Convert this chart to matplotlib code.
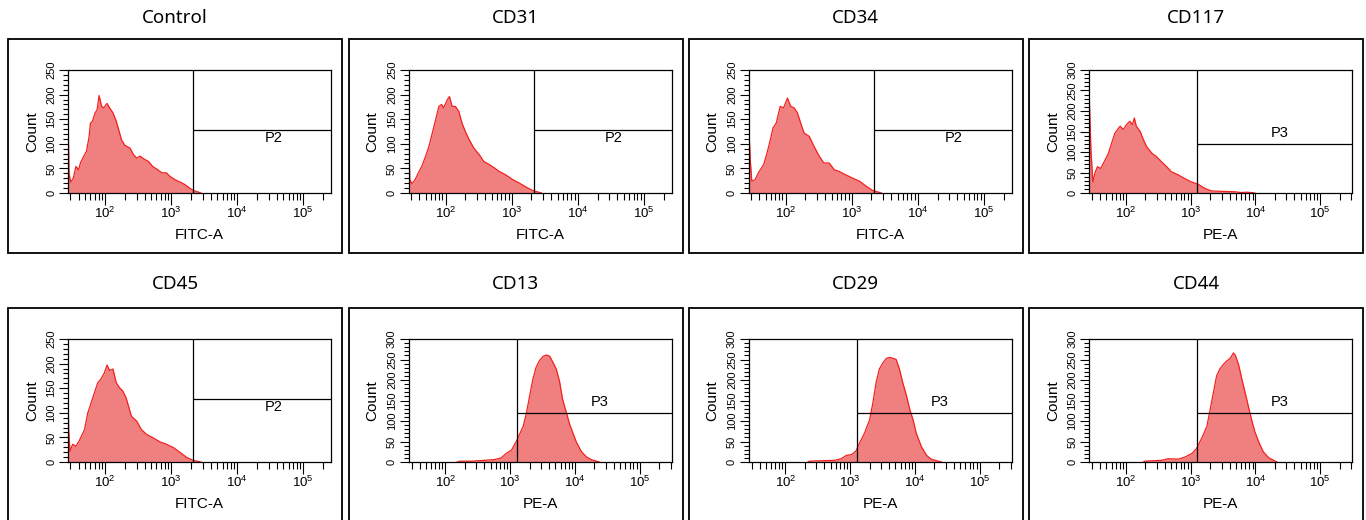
import numpy as np
import matplotlib
matplotlib.use("Agg")
import matplotlib.pyplot as plt
from matplotlib.patches import Rectangle
from matplotlib.ticker import LogLocator, NullFormatter, MultipleLocator, LogFormatterSciNotation

# ---------------- data ----------------
titles = ["Control", "CD31", "CD34", "CD117", "CD45", "CD13", "CD29", "CD44"]
x_labels = ["FITC-A", "FITC-A", "FITC-A", "PE-A", "FITC-A", "PE-A", "PE-A", "PE-A"]
gate_names = ["P2", "P2", "P2", "P3", "P2", "P3", "P3", "P3"]

# fluorescence intensity in log10 units, and counts
control_log = [1.44, 1.455, 1.48, 1.52, 1.56, 1.60, 1.63, 1.68, 1.72, 1.76, 1.78, 1.81, 1.85, 1.88, 1.91,
               1.95, 1.98, 2.03, 2.07, 2.12, 2.17, 2.20, 2.25, 2.30, 2.38, 2.43, 2.48, 2.53, 2.59, 2.66,
               2.72, 2.78, 2.86, 2.93, 2.98, 3.06, 3.14, 3.21, 3.28, 3.34, 3.41, 3.45]
control_cnt = [173, 41, 22, 30, 54, 47, 62, 75, 85, 115, 142, 146, 163, 169, 198,
               176, 173, 182, 173, 163, 146, 132, 108, 97, 91, 78, 71, 75, 69, 64,
               54, 49, 41, 41, 34, 27, 22, 17, 10, 5, 2, 0]

cd31_log = [1.44, 1.46, 1.49, 1.54, 1.59, 1.64, 1.70, 1.75, 1.80, 1.85, 1.90, 1.94, 1.97, 2.03, 2.06,
            2.10, 2.15, 2.20, 2.25, 2.30, 2.36, 2.43, 2.51, 2.58, 2.66, 2.74, 2.81, 2.91, 3.02, 3.12,
            3.22, 3.32, 3.40, 3.45]
cd31_cnt = [135, 27, 19, 27, 41, 54, 75, 95, 122, 149, 176, 180, 173, 190, 196,
            176, 176, 166, 142, 125, 108, 91, 78, 64, 58, 51, 44, 37, 27, 20,
            12, 5, 2, 0]

cd34_log = [1.44, 1.47, 1.49, 1.54, 1.59, 1.67, 1.72, 1.77, 1.81, 1.86, 1.92, 1.97, 2.03, 2.08, 2.13,
            2.18, 2.23, 2.28, 2.36, 2.43, 2.51, 2.58, 2.66, 2.74, 2.81, 2.91, 3.02, 3.12, 3.22, 3.32,
            3.40, 3.45]
cd34_cnt = [146, 61, 24, 27, 41, 58, 81, 108, 132, 142, 176, 173, 193, 176, 173,
            163, 142, 122, 115, 95, 75, 61, 61, 47, 44, 37, 30, 24, 14, 5,
            2, 0]

cd117_log = [1.43, 1.46, 1.49, 1.52, 1.56, 1.61, 1.68, 1.73, 1.78, 1.83, 1.91, 1.96, 2.01, 2.06, 2.10,
             2.13, 2.16, 2.22, 2.27, 2.32, 2.40, 2.47, 2.55, 2.63, 2.70, 2.81, 2.91, 3.01, 3.12, 3.22,
             3.32, 3.48, 3.68, 3.78, 3.86, 3.94, 3.99]
cd117_cnt = [253, 105, 27, 48, 64, 60, 81, 97, 122, 146, 163, 155, 167, 175, 167,
             183, 163, 150, 130, 113, 97, 89, 76, 64, 52, 44, 35, 27, 21, 11,
             5, 4, 3, 1, 2, 1, 0]

cd45_log = [1.44, 1.45, 1.47, 1.51, 1.56, 1.61, 1.69, 1.74, 1.79, 1.84, 1.89, 1.94, 1.99, 2.03, 2.07,
            2.12, 2.17, 2.22, 2.27, 2.32, 2.40, 2.48, 2.55, 2.63, 2.73, 2.83, 2.93, 3.04, 3.14, 3.24,
            3.34, 3.42, 3.45]
cd45_cnt = [144, 66, 22, 36, 32, 43, 66, 100, 120, 141, 161, 169, 181, 197, 186,
            189, 161, 151, 144, 130, 93, 83, 66, 56, 49, 41, 36, 29, 19, 9,
            3, 1, 0]

cd13_log = [2.18, 2.22, 2.40, 2.60, 2.76, 2.86, 2.94, 3.02, 3.09, 3.14, 3.20, 3.25, 3.30, 3.35, 3.40,
            3.45, 3.51, 3.56, 3.61, 3.66, 3.71, 3.76, 3.81, 3.87, 3.92, 3.97, 4.02, 4.10, 4.18, 4.25,
            4.33, 4.38]
cd13_cnt = [0, 2, 2, 4, 6, 10, 21, 29, 49, 66, 87, 119, 161, 202, 231,
            247, 258, 261, 258, 243, 227, 198, 152, 119, 91, 70, 49, 25, 12, 6,
            2, 0]

cd29_log = [2.35, 2.37, 2.55, 2.76, 2.86, 2.94, 3.02, 3.09, 3.14, 3.22, 3.30, 3.35, 3.40, 3.45, 3.51,
            3.56, 3.61, 3.66, 3.71, 3.76, 3.81, 3.87, 3.92, 3.97, 4.02, 4.10, 4.18, 4.25, 4.36, 4.41]
cd29_cnt = [0, 2, 3, 4, 8, 16, 18, 27, 45, 70, 103, 144, 194, 227, 243,
            253, 255, 253, 250, 227, 194, 161, 128, 103, 70, 37, 16, 7, 2, 0]

cd44_log = [2.27, 2.29, 2.55, 2.65, 2.81, 2.91, 3.02, 3.09, 3.17, 3.25, 3.30, 3.35, 3.40, 3.45, 3.51,
            3.56, 3.61, 3.66, 3.69, 3.74, 3.79, 3.84, 3.89, 3.94, 3.99, 4.05, 4.12, 4.20, 4.28, 4.33]
cd44_cnt = [0, 2, 4, 8, 7, 12, 21, 33, 58, 87, 128, 169, 210, 227, 239,
            247, 253, 266, 260, 237, 202, 169, 136, 103, 74, 49, 25, 11, 4, 0]

hist_logs = [control_log, cd31_log, cd34_log, cd117_log, cd45_log, cd13_log, cd29_log, cd44_log]
hist_cnts = [control_cnt, cd31_cnt, cd34_cnt, cd117_cnt, cd45_cnt, cd13_cnt, cd29_cnt, cd44_cnt]

# axis settings per channel
fitc_xlim_log = (1.44, 5.42)
pe_xlim_log = (1.43, 5.49)
fitc_ymax, pe_ymax = 250, 300
fitc_yticks = [0, 50, 100, 150, 200, 250]
pe_yticks = [0, 50, 100, 150, 200, 250, 300]

# gates: (threshold intensity, horizontal line count, label intensity, label count)
fitc_gate = (2150, 128, 35500, 112)
pe_gate = (1260, 120, 24000, 146)

# ---------------- layout ----------------
W, H = 1366, 520
plt.rcParams['font.family'] = ['Liberation Sans', 'DejaVu Sans']
plt.rcParams['mathtext.fontset'] = 'custom'
plt.rcParams['mathtext.rm'] = 'Liberation Sans'
plt.rcParams['mathtext.default'] = 'regular'

fig = plt.figure(figsize=(W / 100, H / 100), dpi=100)
fig.patch.set_facecolor('white')

frame_lefts = [8, 348.5, 688.5, 1029]
frame_tops = [39, 308]
frame_w, frame_h = 334, 214
title_ys = [18, 284]
in_left, in_top, in_w, in_h = 60, 31, 263, 123

FILL = '#F08080'
EDGE = '#F2201E'

for i in range(8):
    r, c = divmod(i, 4)
    fl, ft = frame_lefts[c], frame_tops[r]
    fig.add_artist(Rectangle((fl / W, 1 - (ft + frame_h) / H), frame_w / W, frame_h / H,
                             transform=fig.transFigure, fill=False, ec='black', lw=1.3))
    fig.text((fl + frame_w / 2) / W, 1 - title_ys[r] / H, titles[i], ha='center', va='center',
             fontsize=13.5, family=['Noto Sans', 'DejaVu Sans'])

    ax = fig.add_axes([(fl + in_left) / W, 1 - (ft + in_top + in_h) / H, in_w / W, in_h / H])
    is_pe = x_labels[i] == 'PE-A'
    xl = pe_xlim_log if is_pe else fitc_xlim_log
    ymax = pe_ymax if is_pe else fitc_ymax
    yt = pe_yticks if is_pe else fitc_yticks
    gate = pe_gate if is_pe else fitc_gate

    x = 10 ** np.array(hist_logs[i])
    y = np.array(hist_cnts[i])
    ax.fill_between(x, 0, y, color=FILL, lw=0, zorder=1)
    ax.plot(x, y, color=EDGE, lw=0.9, zorder=2)

    ax.set_xscale('log')
    ax.set_xlim(10 ** xl[0], 10 ** xl[1])
    ax.set_ylim(0, ymax)

    # gate
    ax.axvline(gate[0], color='black', lw=0.9, zorder=3)
    ax.hlines(gate[1], gate[0], 10 ** xl[1], color='black', lw=0.9, zorder=3)
    ax.text(gate[2], gate[3], gate_names[i], ha='center', va='center', fontsize=10.5)

    for s in ax.spines.values():
        s.set_linewidth(0.9)

    ax.xaxis.set_major_locator(LogLocator(base=10, numticks=10))
    ax.xaxis.set_major_formatter(LogFormatterSciNotation())
    ax.xaxis.set_minor_locator(LogLocator(base=10, subs=np.arange(2, 10), numticks=20))
    ax.xaxis.set_minor_formatter(NullFormatter())
    ax.tick_params(axis='x', which='major', length=8.5, width=0.8, pad=0.5, labelsize=9.5)
    ax.tick_params(axis='x', which='minor', length=5, width=0.8)

    ax.set_yticks(yt)
    ax.set_yticklabels([str(v) for v in yt], rotation=90, va='center', fontsize=8)
    ax.yaxis.set_minor_locator(MultipleLocator(10))
    ax.tick_params(axis='y', which='major', length=6.8, width=0.8, pad=1.5)
    ax.tick_params(axis='y', which='minor', length=3.6, width=0.8)

    ax.set_xlabel(x_labels[i], fontsize=11)
    ax.xaxis.set_label_coords(0.5, -0.285)
    ax.set_ylabel('Count', fontsize=11)
    ax.yaxis.set_label_coords(-0.11, 0.5)

fig.savefig('out.png', dpi=100, facecolor='white')
